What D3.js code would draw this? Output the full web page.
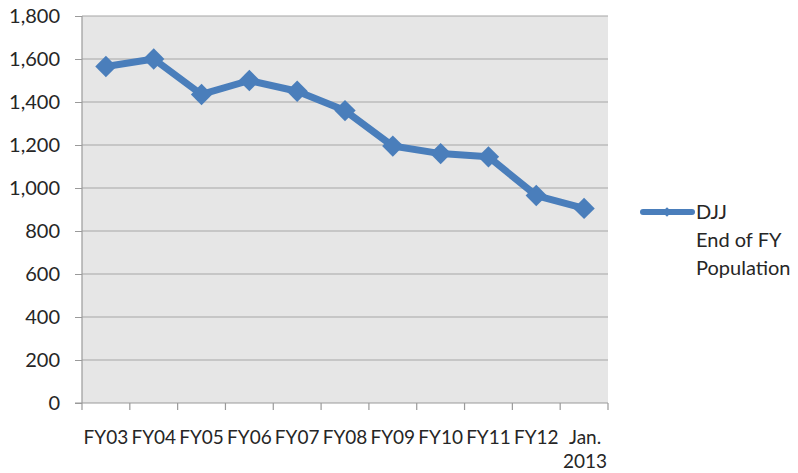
<!DOCTYPE html>
<html>
<head>
<meta charset="utf-8">
<script src="https://cdn.jsdelivr.net/npm/d3@7/dist/d3.min.js"></script>
<style>
  html, body { margin: 0; padding: 0; background: #fff; }
  svg { display: block; font-family: Lato, "Open Sans", sans-serif; }
</style>
</head>
<body>
<svg id="chart" width="798" height="473"></svg>
<script>
// End-of-fiscal-year population
const categories = ["FY03", "FY04", "FY05", "FY06", "FY07", "FY08", "FY09", "FY10", "FY11", "FY12", "Jan.\n2013"];
const population = [1565, 1600, 1435, 1500, 1450, 1360, 1195, 1160, 1145, 965, 905];
const yTicks = [0, 200, 400, 600, 800, 1000, 1200, 1400, 1600, 1800];
const seriesName = ["DJJ", "End of FY", "Population"];

const svg = d3.select("#chart");
const plotLeft = 82, plotRight = 608, plotTop = 16, plotBottom = 403;
const blue = "#4a7ebb";
const textColor = "#262626";

const x = d3.scaleBand().domain(categories).range([plotLeft, plotRight]).padding(0);
const y = d3.scaleLinear().domain([0, 1800]).range([plotBottom, plotTop]);

// plot background
svg.append("rect")
  .attr("x", plotLeft).attr("y", plotTop)
  .attr("width", plotRight - plotLeft).attr("height", plotBottom - plotTop)
  .attr("fill", "#e6e6e6");

// value axis labels and tick marks left of the axis
const yAxis = svg.append("g").attr("transform", `translate(${plotLeft},0)`)
  .call(d3.axisLeft(y).tickValues(yTicks).tickSize(7).tickPadding(15)
    .tickFormat(d3.format(",")));
yAxis.select(".domain").remove();
yAxis.selectAll(".tick line").attr("stroke", "#9a9a9a");
yAxis.selectAll(".tick text").attr("font-size", 20).attr("fill", textColor)
  .attr("font-family", "Lato, 'Open Sans', sans-serif");

// horizontal gridlines
svg.append("g").selectAll("line").data(yTicks.filter(d => d > 0)).join("line")
  .attr("x1", plotLeft).attr("x2", plotRight)
  .attr("y1", d => y(d)).attr("y2", d => y(d))
  .attr("stroke", "#a6a6a6").attr("stroke-width", 1.2);

// left axis line
svg.append("line").attr("x1", plotLeft).attr("x2", plotLeft).attr("y1", plotTop).attr("y2", plotBottom)
  .attr("stroke", "#9a9a9a").attr("stroke-width", 1.2);

// category axis with tick marks on band boundaries
const xAxis = svg.append("g").attr("transform", `translate(0,${plotBottom})`);
xAxis.append("line").attr("x1", plotLeft - 7).attr("x2", plotRight).attr("stroke", "#9a9a9a").attr("stroke-width", 1.2);
const bounds = categories.map(c => x(c)).concat([plotRight]);
xAxis.selectAll("line.tk").data(bounds).join("line").attr("class", "tk")
  .attr("x1", d => d).attr("x2", d => d).attr("y1", 0).attr("y2", 7)
  .attr("stroke", "#9a9a9a").attr("stroke-width", 1.2);
const lbl = xAxis.selectAll("text").data(categories).join("text")
  .attr("text-anchor", "middle").attr("font-size", 19).attr("fill", textColor)
  .attr("x", d => x(d) + x.bandwidth() / 2 + (d.includes("\n") ? 1 : 0));
lbl.each(function(d) {
  const parts = d.split("\n");
  const t = d3.select(this);
  parts.forEach((p, i) => {
    t.append("tspan").attr("x", t.attr("x")).attr("y", 41 + i * 24).text(p);
  });
});

// data line and diamond markers
const cx = d => x(d) + x.bandwidth() / 2;
const pts = categories.map((c, i) => [cx(c), y(population[i])]);
svg.append("path").attr("d", d3.line()(pts))
  .attr("fill", "none").attr("stroke", blue).attr("stroke-width", 7)
  .attr("stroke-linejoin", "round");
svg.append("g").selectAll("path").data(pts).join("path")
  .attr("transform", d => `translate(${d[0]},${d[1]})`)
  .attr("d", d3.symbol(d3.symbolDiamond2, 290)())
  .attr("fill", blue);

// legend
const lg = svg.append("g");
lg.append("line").attr("x1", 643).attr("x2", 692).attr("y1", 212).attr("y2", 212)
  .attr("stroke", blue).attr("stroke-width", 6).attr("stroke-linecap", "round");
lg.append("path").attr("transform", "translate(667,212)")
  .attr("d", d3.symbol(d3.symbolDiamond2, 60)()).attr("fill", blue);
lg.selectAll("text").data(seriesName).join("text")
  .attr("x", 696).attr("y", (d, i) => 219 + i * 28)
  .attr("font-size", 20).attr("fill", textColor).text(d => d);
</script>
</body>
</html>
